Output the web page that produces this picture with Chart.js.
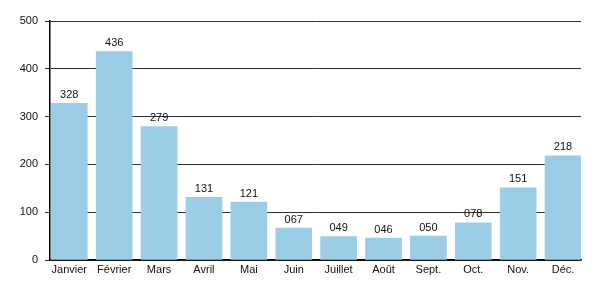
<!DOCTYPE html>
<html>
<head>
<meta charset="utf-8">
<script src="https://cdn.jsdelivr.net/npm/chart.js@4/dist/chart.umd.min.js"></script>
<style>
html,body{margin:0;padding:0;background:#fff;}
#wrap{width:600px;height:300px;}
</style>
</head>
<body>
<div id="wrap"><canvas id="c" width="600" height="300"></canvas></div>
<script>
const categories = ["Janvier","Février","Mars","Avril","Mai","Juin","Juillet","Août","Sept.","Oct.","Nov.","Déc."];
const values = [328, 436, 279, 131, 121, 67, 49, 46, 50, 78, 151, 218];
const yTicks = [0, 100, 200, 300, 400, 500];

const FONT = "'Liberation Sans', Arial, Helvetica, sans-serif";

const valueLabels = {
  id: 'valueLabels',
  afterDatasetsDraw(chart) {
    const ctx = chart.ctx;
    const meta = chart.getDatasetMeta(0);
    ctx.save();
    ctx.font = "11px " + FONT;
    ctx.fillStyle = "#111";
    ctx.textAlign = "center";
    ctx.textBaseline = "bottom";
    meta.data.forEach((el, i) => {
      ctx.fillText(String(values[i]).padStart(3, '0'), el.x, el.y - 3);
    });
    ctx.restore();
  }
};

new Chart(document.getElementById('c'), {
  type: 'bar',
  data: {
    datasets: [{
      data: values.map((v, i) => ({x: i, y: v})),
      backgroundColor: '#9dcde6',
      borderWidth: 0,
      barThickness: 36
    }]
  },
  options: {
    responsive: false,
    animation: false,
    devicePixelRatio: 1,
    layout: {padding: {left: 0, right: 19, top: 21, bottom: 0}},
    plugins: {legend: {display: false}, tooltip: {enabled: false}},
    scales: {
      x: {
        type: 'linear',
        offset: false,
        min: -0.43,
        max: 11.4,
        afterBuildTicks: (s) => { s.ticks = categories.map((c, i) => ({value: i})); },
        afterFit: (s) => { s.height = 40; },
        grid: {display: false, drawTicks: false, offset: false},
        border: {display: true, color: '#000', width: 1.5},
        ticks: {
          autoSkip: false, maxRotation: 0, padding: 3,
          color: '#111', font: {family: FONT, size: 11},
          callback: (v) => categories[v]
        }
      },
      y: {
        min: 0, max: 500,
        afterBuildTicks: (s) => { s.ticks = yTicks.map(v => ({value: v})); },
        afterFit: (s) => { s.width = 50; },
        grid: {color: '#333', lineWidth: 1, tickLength: 5, drawTicks: true},
        border: {display: true, color: '#000', width: 1.5},
        ticks: {padding: 7, color: '#111', font: {family: FONT, size: 11}}
      }
    }
  },
  plugins: [valueLabels]
});
</script>
</body>
</html>
